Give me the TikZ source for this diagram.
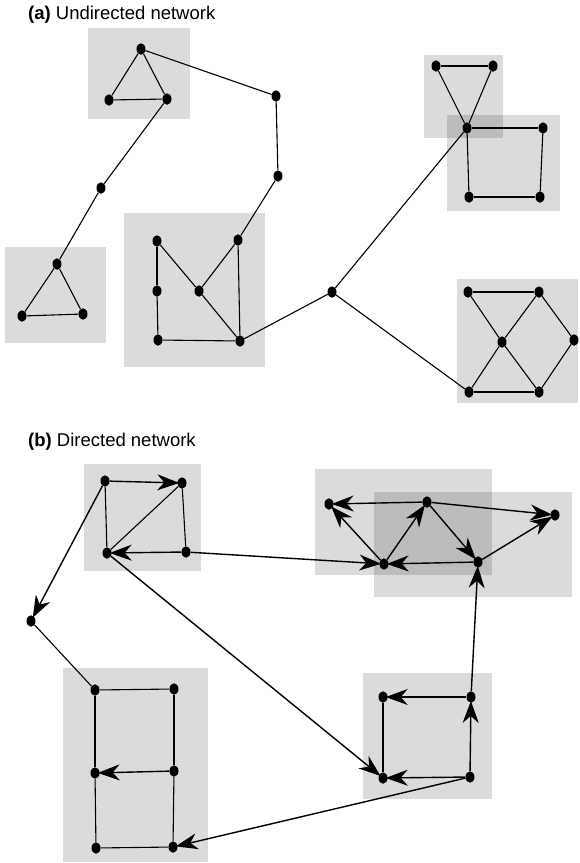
\documentclass[tikz,border=0pt]{standalone}
\usepackage{tikz}
\usepackage{xcolor}
\usepackage{fontspec}
\setmainfont{Liberation Sans}
\usetikzlibrary{
    shapes.geometric,
    arrows.meta
}
\definecolor{CinzaGrupo}{HTML}{000000}
\definecolor{PretoNo}{HTML}{000000}
\tikzset{
    vertice/.style={ellipse, fill=PretoNo, inner sep=0pt,
        minimum width=9pt, minimum height=11.5pt},
    grupo/.style={fill=CinzaGrupo, fill opacity=0.14},
    ligacao/.style={line width=1.1pt},
    seta/.style={line width=1.4pt, shorten >=-2pt,
        -{Stealth[length=22pt, width=16pt, inset=7pt]}},
    titulo/.style={anchor=west, inner sep=0pt,
        font=\fontsize{18.5}{22}\selectfont}
}

\begin{document}
\begin{tikzpicture}[x=1pt, y=-1pt]
    \useasboundingbox (0,0) rectangle (580,863);

    % (a)
    \node[titulo] (tituloA) at (28,15) {\textbf{(a)} Undirected network};

    \fill[grupo] (88,28) rectangle (190,119);
    \fill[grupo] (5,247) rectangle (106,343);
    \fill[grupo] (124,213) rectangle (265,367);
    \fill[grupo] (424,55) rectangle (503,138);
    \fill[grupo] (447,115) rectangle (560,211);
    \fill[grupo] (457,279) rectangle (578,403);

    \node[vertice] (u1) at (141,49) {};
    \node[vertice] (u2) at (109,100) {};
    \node[vertice] (u3) at (167,99) {};
    \node[vertice] (u4) at (276,96) {};
    \node[vertice] (u5) at (278,176) {};
    \node[vertice] (u6) at (101,188) {};
    \node[vertice] (u7) at (57,264) {};
    \node[vertice] (u8) at (22,316) {};
    \node[vertice] (u9) at (83,314) {};
    \node[vertice] (u10) at (157,241) {};
    \node[vertice] (u11) at (157,291) {};
    \node[vertice] (u12) at (158,340) {};
    \node[vertice] (u13) at (199,291) {};
    \node[vertice] (u14) at (238,240) {};
    \node[vertice] (u15) at (240,341) {};
    \node[vertice] (u16) at (332,292) {};
    \node[vertice] (u17) at (436,66) {};
    \node[vertice] (u18) at (493,66) {};
    \node[vertice] (u19) at (467,128) {};
    \node[vertice] (u20) at (543,128) {};
    \node[vertice] (u21) at (469,197) {};
    \node[vertice] (u22) at (540,197) {};
    \node[vertice] (u23) at (468,292) {};
    \node[vertice] (u24) at (539,292) {};
    \node[vertice] (u25) at (574,340) {};
    \node[vertice] (u26) at (502,342) {};
    \node[vertice] (u27) at (469,392) {};
    \node[vertice] (u28) at (539,392) {};

    \foreach \a/\b in {u1/u2, u2/u3, u3/u1, u1/u4, u4/u5, u5/u14,
        u3/u6, u6/u7, u7/u8, u8/u9, u9/u7,
        u10/u11, u11/u12, u12/u15, u10/u13, u13/u15, u13/u14, u14/u15,
        u15/u16, u16/u19, u17/u18, u17/u19, u18/u19,
        u19/u20, u20/u22, u22/u21, u21/u19, u16/u27,
        u23/u24, u23/u26, u26/u28, u24/u26, u26/u27,
        u24/u25, u25/u28, u27/u28}
        \draw[ligacao] (\a) -- (\b);

    % (b)
    \node[titulo] (tituloB) at (28,442) {\textbf{(b)} Directed network};

    \fill[grupo] (84,464) rectangle (201,571);
    \fill[grupo] (315,469) rectangle (492,575);
    \fill[grupo] (374,492) rectangle (572,597);
    \fill[grupo] (363,673) rectangle (492,799);
    \fill[grupo] (63,668) rectangle (208,862);

    \node[vertice] (d1) at (105,481) {};
    \node[vertice] (d2) at (182,483) {};
    \node[vertice] (d3) at (107,553) {};
    \node[vertice] (d4) at (186,552) {};
    \node[vertice] (d5) at (31,621) {};
    \node[vertice] (d6) at (329,504) {};
    \node[vertice] (d7) at (427,502) {};
    \node[vertice] (d8) at (555,515) {};
    \node[vertice] (d9) at (384,564) {};
    \node[vertice] (d10) at (478,562) {};
    \node[vertice] (d11) at (383,697) {};
    \node[vertice] (d12) at (471,697) {};
    \node[vertice] (d13) at (383,778) {};
    \node[vertice] (d14) at (470,777) {};
    \node[vertice] (d15) at (95,690) {};
    \node[vertice] (d16) at (174,689) {};
    \node[vertice] (d17) at (95,773) {};
    \node[vertice] (d18) at (174,771) {};
    \node[vertice] (d19) at (96,848) {};
    \node[vertice] (d20) at (173,847) {};

    \foreach \a/\b in {d1/d3, d2/d4, d2/d3, d5/d15, d15/d16, d15/d17,
        d17/d19, d16/d18, d18/d20, d19/d20, d11/d13}
        \draw[ligacao] (\a) -- (\b);

    \foreach \a/\b in {d1/d2, d4/d3, d1/d5, d4/d9, d3/d13,
        d7/d6, d9/d6, d9/d7, d7/d10, d7/d8, d10/d8, d10/d9,
        d12/d10, d12/d11, d14/d13, d14/d12, d14/d20, d18/d17}
        \draw[seta] (\a) -- (\b);
\end{tikzpicture}
\end{document}
